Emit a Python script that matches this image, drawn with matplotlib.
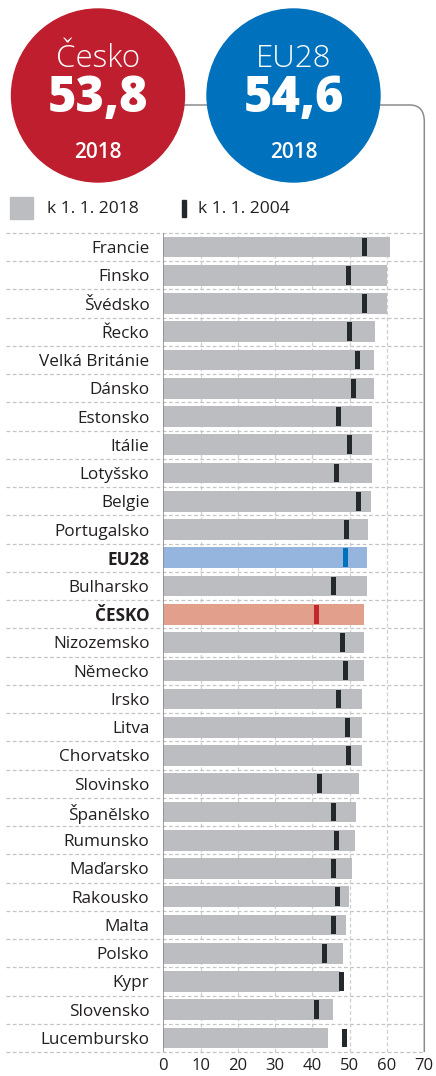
import matplotlib
matplotlib.use("Agg")
import matplotlib.pyplot as plt
from matplotlib.patches import Circle, Rectangle, PathPatch
from matplotlib.path import Path

plt.rcParams['font.family'] = ['Open Sans', 'DejaVu Sans']

countries = ["Francie", "Finsko", "Švédsko", "Řecko", "Velká Británie", "Dánsko",
             "Estonsko", "Itálie", "Lotyšsko", "Belgie", "Portugalsko", "EU28",
             "Bulharsko", "ČESKO", "Nizozemsko", "Německo", "Irsko", "Litva",
             "Chorvatsko", "Slovinsko", "Španělsko", "Rumunsko", "Maďarsko",
             "Rakousko", "Malta", "Polsko", "Kypr", "Slovensko", "Lucembursko"]
val_2018 = [60.8, 60.0, 60.0, 56.9, 56.6, 56.4, 56.1, 56.1, 56.1, 55.6, 54.8, 54.6,
            54.5, 53.8, 53.9, 53.7, 53.4, 53.2, 53.2, 52.6, 51.8, 51.3, 50.5,
            49.7, 48.9, 48.1, 47.5, 45.4, 44.1]
val_2004 = [53.9, 49.8, 53.9, 50.0, 52.1, 50.9, 47.1, 50.0, 46.5, 52.4, 49.2, 48.8,
            45.6, 41.1, 48.0, 48.9, 47.1, 49.4, 49.8, 42.0, 45.6, 46.5, 45.6,
            46.8, 45.6, 43.2, 47.7, 41.1, 48.5]
xticks = [0, 10, 20, 30, 40, 50, 60, 70]
headline_cz = "53,8"
headline_eu = "54,6"

W, H = 436, 1076
fig = plt.figure(figsize=(W / 100, H / 100), dpi=100)

# pixel overlay
ov = fig.add_axes([0, 0, 1, 1], zorder=0)
ov.set_xlim(0, W)
ov.set_ylim(H, 0)
ov.axis('off')

# main axes
x0px, x70px = 163.3, 424.3
top_px, bot_px = 232.9, 1052.1
ax = fig.add_axes([x0px / W, 1 - bot_px / H, (x70px - x0px) / W, (bot_px - top_px) / H], zorder=1)
ax.patch.set_alpha(0)

n = len(countries)
ys = list(range(n))
bar_colors = []
mark_colors = []
for c in countries:
    if c == "EU28":
        bar_colors.append("#95b4de"); mark_colors.append("#0072bc")
    elif c == "ČESKO":
        bar_colors.append("#e2a08c"); mark_colors.append("#c1272d")
    else:
        bar_colors.append("#bcbdc0"); mark_colors.append("#23282b")

ax.barh(ys, val_2018, height=0.74, color=bar_colors, zorder=2)
ax.barh(ys, [1.35] * n, left=[v - 0.675 for v in val_2004], height=0.66,
        color=mark_colors, zorder=3)

ax.set_xlim(0, 70)
ax.set_ylim(n - 0.5, -0.5)
for s in ax.spines.values():
    s.set_visible(False)
ax.axvline(0, color="#8c8c8c", lw=1.2, zorder=4)

for xv in xticks[1:-1]:
    ax.axvline(xv, color="#cfcfcf", lw=0.9, ls=(0, (3, 2)), zorder=1)
for yb in [i - 0.5 for i in range(n + 1)]:
    ax.axhline(yb, xmin=(6 - x0px) / (x70px - x0px), xmax=1.0, color="#c4c4c4",
               lw=0.9, ls=(0, (3, 2)), zorder=1, clip_on=False)

ax.set_yticks(ys)
ax.set_yticklabels(countries, fontsize=12.3, color="#231f20")
for lbl, c in zip(ax.get_yticklabels(), countries):
    if c in ("EU28", "ČESKO"):
        lbl.set_fontweight("bold")
ax.tick_params(axis='y', length=0, pad=10)
ax.set_xticks(xticks)
ax.set_xticklabels([str(t) for t in xticks], fontsize=12, color="#231f20")
ax.tick_params(axis='x', length=0, pad=4)

# connector line
ov.plot([184, 207], [105, 105], color="#8c8c8c", lw=1.1, zorder=1)
path = Path([(380, 105), (410, 105), (424.3, 105), (424.3, 122), (424.3, bot_px)],
            [Path.MOVETO, Path.LINETO, Path.CURVE3, Path.CURVE3, Path.LINETO])
ov.add_patch(PathPatch(path, fill=False, edgecolor="#8c8c8c", lw=1.1, zorder=1))

# circles
ov.add_patch(Circle((98, 95.5), 86.5, color="#be1e2d", zorder=2))
ov.add_patch(Circle((293.5, 95.5), 86.5, color="#0071bc", zorder=2))
for cx, name, val in [(98, "Česko", headline_cz), (293.5, "EU28", headline_eu)]:
    ov.text(cx, 59, name, color="white", fontsize=22.5, fontweight="light",
            ha="center", va="center", zorder=3)
    ov.text(cx, 99, val, color="white", fontsize=35, fontweight="heavy",
            ha="center", va="center", zorder=3)
    ov.text(cx, 152, "2018", color="white", fontsize=15, fontweight="semibold",
            ha="center", va="center", zorder=3)

# legend
ov.add_patch(Rectangle((10, 197), 23, 22, color="#bcbdc0", zorder=2))
ov.text(47, 209, "k 1. 1. 2018", fontsize=12.6, color="#231f20", ha="left", va="center")
ov.add_patch(Rectangle((182, 199.5), 4, 17.5, color="#23282b", zorder=2))
ov.text(198, 209, "k 1. 1. 2004", fontsize=12.6, color="#231f20", ha="left", va="center")

fig.savefig("out.png", dpi=100)
